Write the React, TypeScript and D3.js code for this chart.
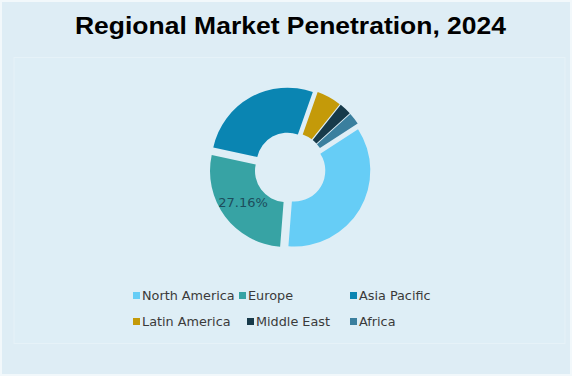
import React from "react";
import * as d3 from "d3";

const categories = ["North America", "Europe", "Asia Pacific", "Latin America", "Middle East", "Africa"];
const values = [35.4, 27.16, 27.0, 5.3, 2.6, 2.54];
const colors = ["#66cdf6", "#37a3a4", "#0a85b2", "#c49a09", "#173a4a", "#3a7f9e"];
const labelShown = ["Europe"];

const W = 572, H = 376;
const cx = 290, cy = 168;
const outerR = 76, innerR = 31, explode = 5;
const startDeg = 57;

const legendRows = [[0, 1, 2], [3, 4, 5]];
const legendColX = [[133, 239, 350], [133, 247, 350]];
const legendRowY = [296, 322];

export default function App() {
  const pie = d3.pie<number>().sort(null).value((d) => d)
    .startAngle((startDeg * Math.PI) / 180)
    .endAngle((startDeg * Math.PI) / 180 + 2 * Math.PI);
  const arcs = pie(values);
  const arc = d3.arc<d3.PieArcDatum<number>>().innerRadius(innerR).outerRadius(outerR);
  const total = d3.sum(values);

  return (
    <svg width={W} height={H} style={{ position: "absolute", left: 0, top: 0 }}>
      <rect x={0} y={0} width={W} height={H} fill="#f2f8fb" />
      <rect x={2} y={2} width={W - 4} height={H - 4} fill="#deedf5" />
      <rect x={14} y={57.5} width={551} height={286} fill="#deeef6" stroke="#e6f2f8" strokeWidth={1} />
      <text x={75} y={34} textLength={431} lengthAdjust="spacingAndGlyphs" fontFamily="Liberation Sans, Arial, sans-serif" fontWeight="bold" fontSize={24.5} fill="#000">
        Regional Market Penetration, 2024
      </text>
      <g transform={`translate(${cx},${cy})`}>
        {arcs.map((a, i) => {
          const mid = (a.startAngle + a.endAngle) / 2;
          const dx = explode * Math.sin(mid);
          const dy = -explode * Math.cos(mid);
          return (
            <path key={i} d={arc(a) || ""} fill={colors[i]} transform={`translate(${dx},${dy})`} />
          );
        })}
        {arcs.map((a, i) => {
          if (!labelShown.includes(categories[i])) return null;
          const mid = (a.startAngle + a.endAngle) / 2;
          const [lx, ly] = arc.centroid(a);
          const dx = explode * Math.sin(mid);
          const dy = -explode * Math.cos(mid);
          return (
            <text key={"l" + i} x={lx + dx} y={ly + dy} dy="0.35em" textAnchor="middle" fontFamily="DejaVu Sans, sans-serif" fontSize={13} fill="#1d4d5c">
              {((values[i] / total) * 100).toFixed(2)}%
            </text>
          );
        })}
      </g>
      {legendRows.map((row, r) =>
        row.map((ci, c) => (
          <g key={ci} transform={`translate(${legendColX[r][c]},${legendRowY[r]})`}>
            <rect x={0} y={-4} width={7} height={7} fill={colors[ci]} />
            <text x={9} y={0} dy="0.35em" fontFamily="DejaVu Sans, sans-serif" fontSize={12.8} fill="#3a3a3a">
              {categories[ci]}
            </text>
          </g>
        ))
      )}
    </svg>
  );
}
